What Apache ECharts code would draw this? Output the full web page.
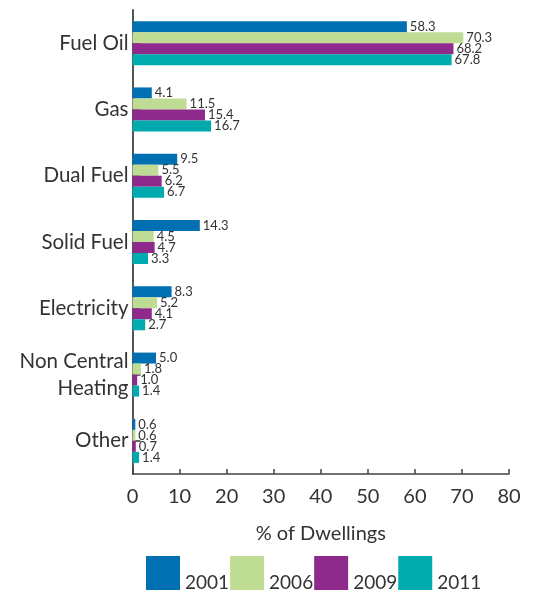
<!DOCTYPE html>
<html>
<head>
<meta charset="utf-8">
<script src="https://cdn.jsdelivr.net/npm/echarts@6/dist/echarts.min.js"></script>
<style>
  html, body { margin: 0; padding: 0; background: #fff; }
  #chart { width: 535px; height: 594px; }
</style>
</head>
<body>
<div id="chart"></div>
<script>
// Heating type categories, listed top to bottom
const categories = ['Fuel Oil', 'Gas', 'Dual Fuel', 'Solid Fuel', 'Electricity', 'Non Central\nHeating', 'Other'];
const years = ['2001', '2006', '2009', '2011'];
// % of dwellings for each heating type, per census year
const values2001 = [58.3, 4.1, 9.5, 14.3, 8.3, 5.0, 0.6];
const values2006 = [70.3, 11.5, 5.5, 4.5, 5.2, 1.8, 0.6];
const values2009 = [68.2, 15.4, 6.2, 4.7, 4.1, 1.0, 0.7];
const values2011 = [67.8, 16.7, 6.7, 3.3, 2.7, 1.4, 1.4];
const xTicks = [0, 10, 20, 30, 40, 50, 60, 70, 80];

const colors = ['#0070b3', '#bedc94', '#8f2a8d', '#00aaad'];
const seriesValues = [values2001, values2006, values2009, values2011];
const FONT = 'Lato, "Noto Sans", sans-serif';
const TEXT = '#333';

const chart = echarts.init(document.getElementById('chart'), null, { renderer: 'canvas' });

chart.setOption({
  animation: false,
  textStyle: { fontFamily: FONT },
  grid: { left: 132.5, right: 26, top: 10, bottom: 120, containLabel: false },
  xAxis: {
    type: 'value',
    min: xTicks[0],
    max: xTicks[xTicks.length - 1],
    interval: 10,
    name: '% of Dwellings',
    nameLocation: 'middle',
    nameGap: 50,
    nameTextStyle: { fontFamily: FONT, fontSize: 20, color: TEXT },
    axisLine: { show: true, lineStyle: { color: '#444', width: 1.5 } },
    axisTick: { show: true, inside: true, length: 5, lineStyle: { color: '#444', width: 1.5 } },
    axisLabel: { fontFamily: FONT, fontSize: 20, color: TEXT, margin: 13 },
    splitLine: { show: false }
  },
  yAxis: {
    type: 'category',
    data: categories,
    inverse: true,
    axisLine: { show: true, lineStyle: { color: '#555', width: 2 } },
    axisTick: { show: true, inside: true, alignWithLabel: true, length: 8, lineStyle: { color: '#333', width: 1.5 } },
    axisLabel: { fontFamily: FONT, fontSize: 20.5, color: TEXT, margin: 4, lineHeight: 27, align: 'right' }
  },
  legend: {
    data: years,
    left: 146,
    top: 556,
    padding: 0,
    itemWidth: 34,
    itemHeight: 34,
    itemGap: 1,
    icon: 'rect',
    formatter: '{y|{name}}',
    textStyle: {
      fontFamily: FONT, fontSize: 19, color: TEXT,
      rich: { y: { fontFamily: FONT, fontSize: 19, color: TEXT, padding: [20, 0, 0, 0] } }
    }
  },
  series: years.map((y, i) => ({
    name: y,
    type: 'bar',
    data: seriesValues[i],
    barWidth: 11,
    barGap: '0%',
    itemStyle: { color: colors[i] },
    label: {
      show: true,
      position: 'right',
      distance: 3,
      fontFamily: FONT,
      fontSize: 13,
      color: TEXT,
      formatter: p => p.value.toFixed(1)
    }
  }))
});
</script>
</body>
</html>
